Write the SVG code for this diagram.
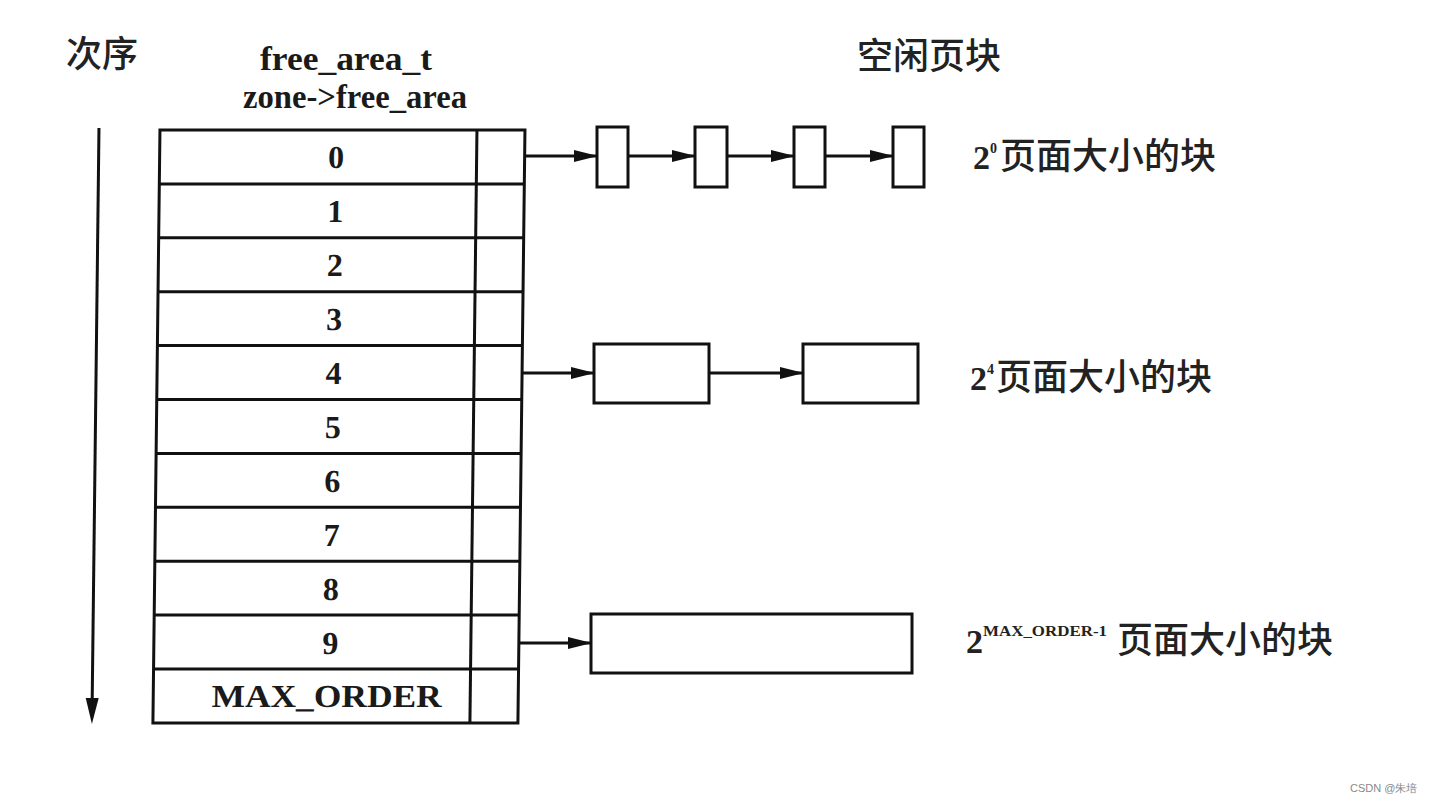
<svg xmlns="http://www.w3.org/2000/svg" width="1432" height="803" viewBox="0 0 1432 803">
<style>
.ln{stroke:#111;stroke-width:3;fill:none}
.bx{stroke:#111;stroke-width:3;fill:#fff}
.num{font-family:"Liberation Serif","Times New Roman",serif;font-weight:bold;font-size:32px;fill:#1a1a1a;text-anchor:middle}
.hdr{font-family:"Liberation Serif","Times New Roman",serif;font-weight:bold;font-size:33px;fill:#1a1a1a;text-anchor:middle}
.cjk{font-family:"Noto Sans CJK SC","Noto Sans",sans-serif;font-weight:500;font-size:36px;fill:#222}
.sup{font-family:"Liberation Serif","Times New Roman",serif;font-weight:bold;fill:#222}
.arr{stroke:#111;stroke-width:3;fill:none;marker-end:url(#ah)}
</style>
<defs>
<marker id="ah" markerWidth="24" markerHeight="14" refX="23" refY="7" orient="auto" markerUnits="userSpaceOnUse">
<path d="M0,1 L24,7 L0,13 Z" fill="#111"/>
</marker>
</defs>
<rect width="1432" height="803" fill="#fff"/>

<g id="headers">
<text class="cjk" x="66" y="67">次序</text>
<text class="hdr" x="346" y="70" textLength="172" lengthAdjust="spacingAndGlyphs">free_area_t</text>
<text class="hdr" x="355" y="108" textLength="224" lengthAdjust="spacingAndGlyphs">zone-&gt;free_area</text>
<text class="cjk" x="857" y="69">空闲页块</text>
</g>

<g id="table" transform="skewX(-0.68)">
<g id="order-arrow">
<line x1="100.5" y1="128" x2="100.5" y2="700" class="ln"/>
<path d="M94,698 L107,698 L100.5,724 Z" fill="#111"/>
</g>
<rect x="161.5" y="130" width="365" height="593" class="ln"/>
<line x1="478.5" y1="130" x2="478.5" y2="723" class="ln"/>
<g class="rows">
<line x1="161.5" y1="183.9" x2="526.5" y2="183.9" class="ln"/>
<line x1="161.5" y1="237.8" x2="526.5" y2="237.8" class="ln"/>
<line x1="161.5" y1="291.7" x2="526.5" y2="291.7" class="ln"/>
<line x1="161.5" y1="345.6" x2="526.5" y2="345.6" class="ln"/>
<line x1="161.5" y1="399.5" x2="526.5" y2="399.5" class="ln"/>
<line x1="161.5" y1="453.4" x2="526.5" y2="453.4" class="ln"/>
<line x1="161.5" y1="507.3" x2="526.5" y2="507.3" class="ln"/>
<line x1="161.5" y1="561.2" x2="526.5" y2="561.2" class="ln"/>
<line x1="161.5" y1="615.1" x2="526.5" y2="615.1" class="ln"/>
<line x1="161.5" y1="669" x2="526.5" y2="669" class="ln"/>
</g>
<g id="row-labels">
<text class="num" x="338" y="168">0</text>
<text class="num" x="338" y="222">1</text>
<text class="num" x="338" y="276">2</text>
<text class="num" x="338" y="330">3</text>
<text class="num" x="338" y="384">4</text>
<text class="num" x="338" y="438">5</text>
<text class="num" x="338" y="492">6</text>
<text class="num" x="338" y="546">7</text>
<text class="num" x="338" y="600">8</text>
<text class="num" x="338" y="654">9</text>
<text class="num" x="335" y="707" textLength="230" lengthAdjust="spacingAndGlyphs">MAX_ORDER</text>
</g>
</g>

<g id="order0-blocks">
<rect x="597" y="127" width="31" height="60" class="bx"/>
<rect x="695" y="127" width="32" height="60" class="bx"/>
<rect x="794" y="127" width="31" height="60" class="bx"/>
<rect x="893" y="127" width="31" height="60" class="bx"/>
</g>
<g id="order4-blocks">
<rect x="594" y="344" width="115" height="59" class="bx"/>
<rect x="803" y="344" width="115" height="59" class="bx"/>
</g>
<g id="order9-blocks">
<rect x="591" y="614" width="321" height="59" class="bx"/>
</g>

<g id="connectors">
<line x1="525" y1="156" x2="597" y2="156" class="arr"/>
<line x1="628" y1="156" x2="695" y2="156" class="arr"/>
<line x1="727" y1="156" x2="794" y2="156" class="arr"/>
<line x1="825" y1="156" x2="893" y2="156" class="arr"/>
<line x1="522" y1="373" x2="594" y2="373" class="arr"/>
<line x1="709" y1="373" x2="803" y2="373" class="arr"/>
<line x1="519" y1="643" x2="591" y2="643" class="arr"/>
</g>

<g id="labels">
<text class="cjk" x="973" y="169"><tspan class="sup" font-size="34">2</tspan><tspan class="sup" font-size="14" dy="-16">0</tspan><tspan dy="16" x="1000">页面大小的块</tspan></text>
<text class="cjk" x="970" y="390"><tspan class="sup" font-size="34">2</tspan><tspan class="sup" font-size="14" dy="-16">4</tspan><tspan dy="16" x="996">页面大小的块</tspan></text>
<text class="cjk" x="966" y="653"><tspan class="sup" font-size="34">2</tspan><tspan class="sup" font-size="14" dy="-17" textLength="124" lengthAdjust="spacingAndGlyphs">MAX_ORDER-1</tspan><tspan dy="17" x="1117">页面大小的块</tspan></text>
</g>

<text x="1350" y="792" font-family="Liberation Sans, Arial, sans-serif" font-size="11" fill="#888">CSDN @朱培</text>
</svg>
